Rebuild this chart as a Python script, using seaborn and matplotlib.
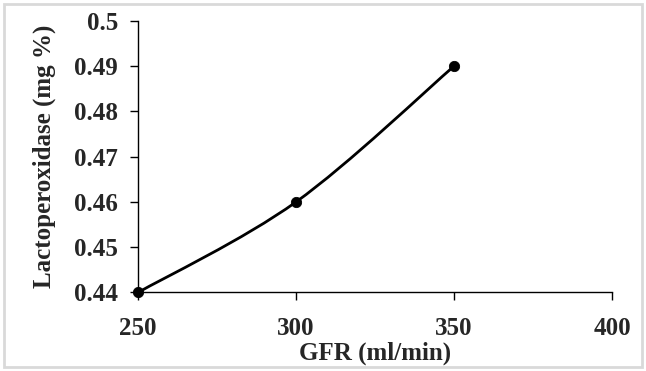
import matplotlib
matplotlib.use("Agg")
import matplotlib.pyplot as plt
import numpy as np
import pandas as pd
import seaborn as sns
from matplotlib.patches import PathPatch, Rectangle
from matplotlib.path import Path

gfr = [250, 300, 350]
lactoperoxidase = [0.44, 0.46, 0.49]
x_ticks = [250, 300, 350, 400]
y_ticks = [0.44, 0.45, 0.46, 0.47, 0.48, 0.49, 0.5]


def smooth_path(xs, ys):
    # Excel-style smoothed line: cubic bezier with 1/6 tangents
    pts = np.column_stack([xs, ys]).astype(float)
    n = len(pts)
    verts = [pts[0]]
    codes = [Path.MOVETO]
    for i in range(n - 1):
        p_prev = pts[i - 1] if i > 0 else pts[i]
        p_next = pts[i + 2] if i + 2 < n else pts[i + 1]
        c1 = pts[i] + (pts[i + 1] - p_prev) / 6
        c2 = pts[i + 1] - (p_next - pts[i]) / 6
        verts += [c1, c2, pts[i + 1]]
        codes += [Path.CURVE4] * 3
    return Path(verts, codes)


def main():
    sns.set_style("ticks")
    plt.rcParams["font.family"] = ["Liberation Serif", "DejaVu Serif"]
    plt.rcParams["font.weight"] = "bold"

    df = pd.DataFrame({"gfr": gfr, "lpo": lactoperoxidase})

    fig = plt.figure(figsize=(6.46, 3.71), dpi=100)
    ax = fig.add_axes([0.2136, 0.2116, 0.7337, 0.732])

    ax.add_patch(PathPatch(smooth_path(gfr, lactoperoxidase), fill=False,
                           edgecolor="black", lw=2, transform=ax.transData,
                           zorder=2, clip_on=False))
    sns.scatterplot(data=df, x="gfr", y="lpo", ax=ax, color="black", s=55,
                    edgecolor="black", zorder=3, clip_on=False, legend=False)

    ax.set_xlim(250, 400)
    ax.set_ylim(0.44, 0.5)
    ax.set_xticks(x_ticks)
    ax.set_yticks(y_ticks)
    ax.set_yticklabels([f"{v:g}" for v in y_ticks])
    ax.tick_params(axis="both", labelsize=18, width=1, length=5.5, color="black")
    ax.tick_params(axis="x", pad=12)
    ax.tick_params(axis="y", pad=9)
    for lab in ax.get_xticklabels() + ax.get_yticklabels():
        lab.set_fontweight("bold")

    ax.set_xlabel("GFR (ml/min)", fontsize=18, fontweight="bold")
    ax.set_ylabel("Lactoperoxidase (mg %)", fontsize=18, fontweight="bold")
    ax.xaxis.set_label_coords(0.5, -0.18)
    ax.yaxis.set_label_coords(-0.172, 0.5)

    sns.despine(ax=ax)
    for side in ["left", "bottom"]:
        ax.spines[side].set_color("black")
        ax.spines[side].set_linewidth(1)

    fig.add_artist(Rectangle((0.006, 0.011), 0.988, 0.978, transform=fig.transFigure,
                             fill=False, edgecolor="#d9d9d9", lw=2))

    fig.savefig("out.png", dpi=100)


if __name__ == "__main__":
    main()
